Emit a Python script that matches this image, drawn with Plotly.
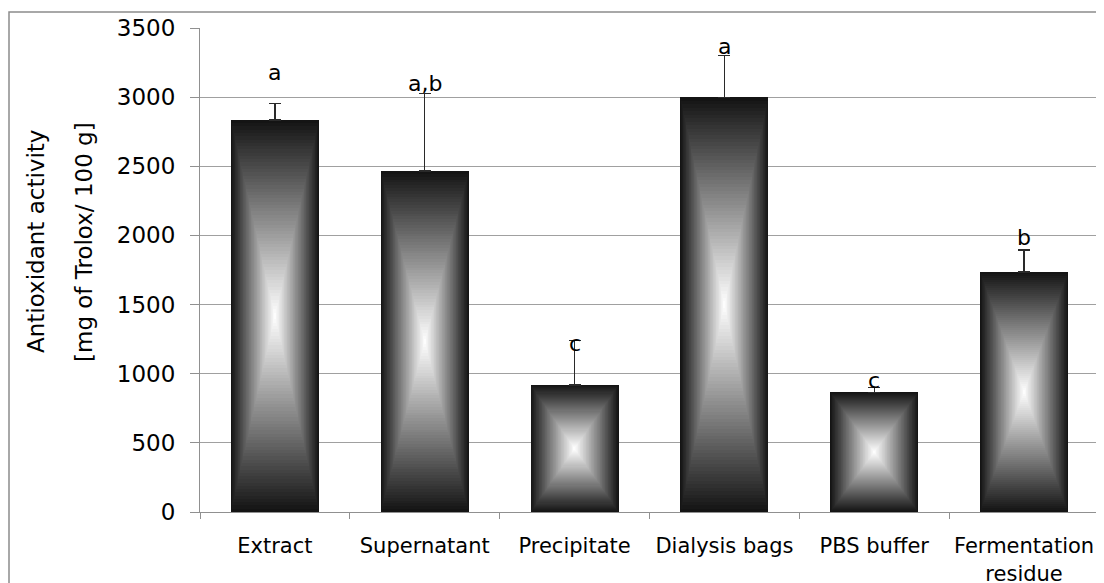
import numpy as np
import plotly.graph_objects as go

# ---------------- data ----------------
categories = ["Extract", "Supernatant", "Precipitate", "Dialysis bags", "PBS buffer", "Fermentation<br>residue"]
activity = [2835, 2466, 918, 2998, 866, 1735]
error_plus = [117, 560, 322, 305, 36, 160]
letters = ["a", "a,b", "c", "a", "c", "b"]
y_tick_values = [0, 500, 1000, 1500, 2000, 2500, 3000, 3500]
y_title_lines = ["Antioxidant activity", "[mg of Trolox/ 100 g]"]

# ---------------- style ----------------
FONT = "DejaVu Sans"
BAR_W = 0.587
N_LEVELS = 60
EDGE_RGB = np.array([18, 18, 18])
CENTER_RGB = np.array([255, 255, 255])
letter_shift_px = [31, 10, -3, 9, 7, 12]

OFF = 8  # page body margin
W, H = 1104 - OFF, 583 - OFF
L, T = 200 - OFF, 28 - OFF
R = W - (1099 - OFF)
B = H - (512 - OFF)
plot_w = W - L - R
plot_h = H - T - B


def px_x(xv):  # viewport pixel -> paper x
    return (xv - OFF - L) / plot_w


def px_y(yv):  # viewport pixel -> paper y
    return (H - B - (yv - OFF)) / plot_h


fig = go.Figure()

# rectangular ("from centre") gradient built from nested overlaid bars
for k in range(N_LEVELS):
    f = k / N_LEVELS
    t = (k + 0.5) / N_LEVELS
    rgb = EDGE_RGB + (CENTER_RGB - EDGE_RGB) * t
    col = "rgb(%d,%d,%d)" % tuple(int(round(c)) for c in rgb)
    kw = {}
    if k == 0:
        kw["error_y"] = dict(type="data", symmetric=False, array=error_plus,
                             arrayminus=[0] * len(activity), color="#2a2a2a",
                             thickness=1.3, width=6)
    fig.add_bar(
        x=categories,
        y=[v * (1 - f) for v in activity],
        base=[v * f / 2 for v in activity],
        width=BAR_W * (1 - f),
        marker=dict(color=col, line=dict(width=0)),
        showlegend=False,
        hoverinfo="skip",
        **kw,
    )

# significance letters
for cat, v, e, lab, sh in zip(categories, activity, error_plus, letters, letter_shift_px):
    fig.add_annotation(x=cat, y=v + e, text=lab, showarrow=False,
                       yanchor="middle", yshift=sh,
                       font=dict(family=FONT, size=22, color="black"))

# y-axis title (two lines, separately placed)
title_x_px = [36, 84]
title_y_px = 242
for line, xp in zip(y_title_lines, title_x_px):
    fig.add_annotation(xref="paper", yref="paper",
                       x=px_x(xp), y=px_y(title_y_px),
                       xanchor="center", yanchor="middle",
                       text=line, textangle=-90, showarrow=False,
                       font=dict(family=FONT, size=23, color="black"))

# outer chart border
fig.add_shape(type="rect", xref="paper", yref="paper",
              x0=px_x(9), x1=px_x(1112),
              y0=px_y(595), y1=px_y(12),
              line=dict(color="#8c8c8c", width=1.5), fillcolor="rgba(0,0,0,0)",
              layer="below")

fig.update_layout(
    width=W, height=H,
    margin=dict(l=L, r=R, t=T, b=B, pad=0, autoexpand=False),
    barmode="overlay",
    bargap=0,
    plot_bgcolor="white",
    paper_bgcolor="white",
    font=dict(family=FONT, color="black"),
    showlegend=False,
)
fig.update_xaxes(
    type="category", automargin=False,
    showline=True, linecolor="#909090", linewidth=1,
    ticks="outside", tickson="boundaries", ticklen=6, tickcolor="#909090",
    tickfont=dict(family=FONT, size=21, color="black"),
    ticklabelstandoff=15,
    showgrid=False, zeroline=False,
)
fig.update_yaxes(
    range=[0, 3500], tickvals=y_tick_values, automargin=False,
    showline=True, linecolor="#909090", linewidth=1,
    ticks="outside", ticklen=9, tickcolor="#909090",
    tickfont=dict(family=FONT, size=23, color="black"),
    ticklabelstandoff=10,
    showgrid=True, gridcolor="#a0a0a0", gridwidth=1,
    zeroline=False,
)

fig.write_html("out.html")
